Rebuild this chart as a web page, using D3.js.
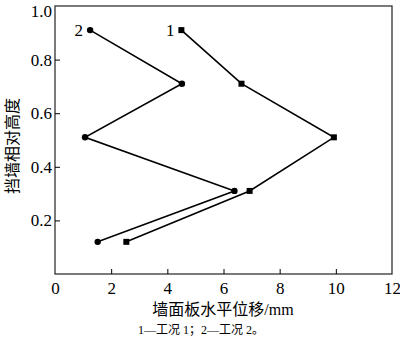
<!DOCTYPE html>
<html>
<head>
<meta charset="utf-8">
<style>
  body { margin: 0; background: #fff; }
  svg text { font-family: "Liberation Serif", "Noto Sans CJK SC", serif; fill: #000; }
</style>
</head>
<body>
<div id="chart"></div>
<script src="https://d3js.org/d3.v7.min.js"></script>
<script>
// case 1 (squares) and case 2 (circles)
var heights = [0.91, 0.71, 0.51, 0.31, 0.12];
var disp1 = [4.5, 6.64, 9.93, 6.93, 2.54];
var disp2 = [1.25, 4.52, 1.07, 6.39, 1.52];
var xTicks = [0, 2, 4, 6, 8, 10, 12];
var yTicks = [0.2, 0.4, 0.6, 0.8, 1.0];

var W = 400, H = 343;
var margin = {top: 6, right: 8, bottom: 69, left: 55};
var width = W - margin.left - margin.right,
    height = H - margin.top - margin.bottom;

var svg = d3.select("#chart").append("svg")
    .attr("width", W).attr("height", H);

var g = svg.append("g").attr("transform", "translate(" + margin.left + "," + margin.top + ")");

var x = d3.scaleLinear().domain([0, 12]).range([0, width]);
var y = d3.scaleLinear().domain([0, 1]).range([height, 0]);

// frame
g.append("rect").attr("width", width).attr("height", height)
  .attr("fill", "none").attr("stroke", "#333").attr("stroke-width", 1.3);

// x axis, ticks inward
var xAxis = g.append("g").attr("transform", "translate(0," + height + ")")
  .call(d3.axisBottom(x).tickValues(xTicks).tickSize(-5).tickPadding(5).tickFormat(d3.format("d")));
xAxis.select(".domain").remove();
xAxis.selectAll("line").attr("stroke", "#000");
xAxis.selectAll("text").attr("font-size", 17).attr("dy", "0.9em");
xAxis.selectAll(".tick").filter(function(d) { return d === 0 || d === 12; }).select("line").remove();

var yAxis = g.append("g")
  .call(d3.axisLeft(y).tickValues(yTicks).tickSize(-5).tickPadding(3).tickFormat(d3.format(".1f")));
yAxis.select(".domain").remove();
yAxis.selectAll("line").attr("stroke", "#000");
yAxis.selectAll("text").attr("font-size", 17);
yAxis.selectAll(".tick").filter(function(d) { return d === 1; }).select("line").remove();
// keep the top label inside the page
yAxis.selectAll(".tick").filter(function(d) { return d === 1; }).select("text").attr("dy", "0.6em");

// lines
var line1 = d3.line().x(function(d, i) { return x(disp1[i]); }).y(function(d) { return y(d); });
var line2 = d3.line().x(function(d, i) { return x(disp2[i]); }).y(function(d) { return y(d); });

g.append("path").datum(heights).attr("d", line1)
  .attr("fill", "none").attr("stroke", "#000").attr("stroke-width", 1.6);
g.append("path").datum(heights).attr("d", line2)
  .attr("fill", "none").attr("stroke", "#000").attr("stroke-width", 1.6);

g.selectAll(".sq").data(heights).enter().append("rect")
  .attr("x", function(d, i) { return x(disp1[i]) - 3; })
  .attr("y", function(d) { return y(d) - 3; })
  .attr("width", 6).attr("height", 6).attr("fill", "#000");

g.selectAll(".ci").data(heights).enter().append("circle")
  .attr("cx", function(d, i) { return x(disp2[i]); })
  .attr("cy", function(d) { return y(d); })
  .attr("r", 3.2).attr("fill", "#000");

// series labels
g.append("text").attr("x", x(disp1[0]) - 7).attr("y", y(heights[0]) + 6)
  .attr("text-anchor", "end").attr("font-size", 17).text("1");
g.append("text").attr("x", x(disp2[0]) - 7).attr("y", y(heights[0]) + 6)
  .attr("text-anchor", "end").attr("font-size", 17).text("2");

// axis titles
svg.append("text").attr("transform", "translate(18," + (margin.top + height / 2 + 6) + ") rotate(-90)")
  .attr("text-anchor", "middle").attr("font-size", 16).text("挡墙相对高度");
svg.append("text").attr("x", 223).attr("y", 315)
  .attr("text-anchor", "middle").attr("font-size", 16).text("墙面板水平位移/mm");
svg.append("text").attr("x", 201).attr("y", 334)
  .attr("text-anchor", "middle").attr("font-size", 12).text("1—工况 1；2—工况 2。");
</script>
</body>
</html>
